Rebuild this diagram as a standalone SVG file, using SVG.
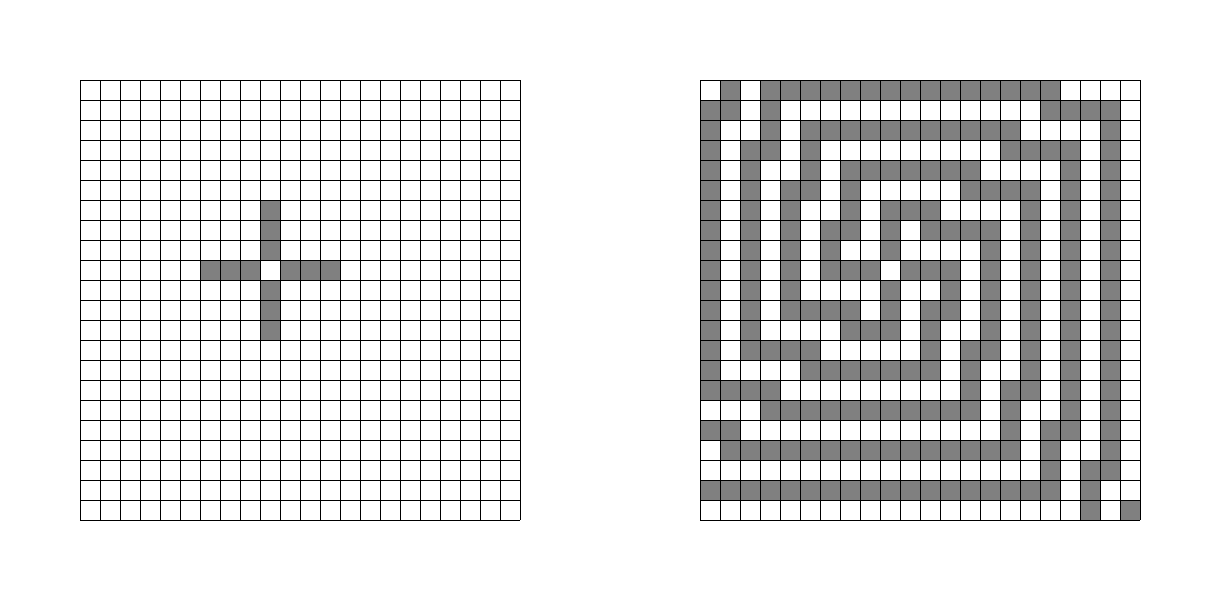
<svg xmlns="http://www.w3.org/2000/svg" xmlns:xlink="http://www.w3.org/1999/xlink" width="1220" height="600" viewBox="0 0 1220 600">
<style>
.g{fill:#808080;stroke:none}
.lines{fill:none;stroke:#000;stroke-width:1;shape-rendering:crispEdges}
</style>
<defs>
<path id="grid" class="lines" d="M80 80V520M100 80V520M120 80V520M140 80V520M160 80V520M180 80V520M200 80V520M220 80V520M240 80V520M260 80V520M280 80V520M300 80V520M320 80V520M340 80V520M360 80V520M380 80V520M400 80V520M420 80V520M440 80V520M460 80V520M480 80V520M500 80V520M520 80V520M80 80H520M80 100H520M80 120H520M80 140H520M80 160H520M80 180H520M80 200H520M80 220H520M80 240H520M80 260H520M80 280H520M80 300H520M80 320H520M80 340H520M80 360H520M80 380H520M80 400H520M80 420H520M80 440H520M80 460H520M80 480H520M80 500H520M80 520H520"/>
</defs>
<rect width="1220" height="600" fill="#fff"/>
<g id="grid-left">
<rect class="g" x="260" y="200" width="20" height="60"/>
<rect class="g" x="200" y="260" width="60" height="20"/>
<rect class="g" x="280" y="260" width="60" height="20"/>
<rect class="g" x="260" y="280" width="20" height="60"/>
<use xlink:href="#grid"/>
</g>
<g id="grid-right">
<!-- row 0 -->
<rect class="g" x="720" y="80" width="20" height="20"/>
<rect class="g" x="760" y="80" width="300" height="20"/>
<!-- row 1 -->
<rect class="g" x="700" y="100" width="40" height="20"/>
<rect class="g" x="760" y="100" width="20" height="20"/>
<rect class="g" x="1040" y="100" width="80" height="20"/>
<!-- row 2 -->
<rect class="g" x="700" y="120" width="20" height="20"/>
<rect class="g" x="760" y="120" width="20" height="20"/>
<rect class="g" x="800" y="120" width="220" height="20"/>
<rect class="g" x="1100" y="120" width="20" height="20"/>
<!-- row 3 -->
<rect class="g" x="700" y="140" width="20" height="20"/>
<rect class="g" x="740" y="140" width="40" height="20"/>
<rect class="g" x="800" y="140" width="20" height="20"/>
<rect class="g" x="1000" y="140" width="80" height="20"/>
<rect class="g" x="1100" y="140" width="20" height="20"/>
<!-- row 4 -->
<rect class="g" x="700" y="160" width="20" height="20"/>
<rect class="g" x="740" y="160" width="20" height="20"/>
<rect class="g" x="800" y="160" width="20" height="20"/>
<rect class="g" x="840" y="160" width="140" height="20"/>
<rect class="g" x="1060" y="160" width="20" height="20"/>
<rect class="g" x="1100" y="160" width="20" height="20"/>
<!-- row 5 -->
<rect class="g" x="700" y="180" width="20" height="20"/>
<rect class="g" x="740" y="180" width="20" height="20"/>
<rect class="g" x="780" y="180" width="40" height="20"/>
<rect class="g" x="840" y="180" width="20" height="20"/>
<rect class="g" x="960" y="180" width="80" height="20"/>
<rect class="g" x="1060" y="180" width="20" height="20"/>
<rect class="g" x="1100" y="180" width="20" height="20"/>
<!-- row 6 -->
<rect class="g" x="700" y="200" width="20" height="20"/>
<rect class="g" x="740" y="200" width="20" height="20"/>
<rect class="g" x="780" y="200" width="20" height="20"/>
<rect class="g" x="840" y="200" width="20" height="20"/>
<rect class="g" x="880" y="200" width="60" height="20"/>
<rect class="g" x="1020" y="200" width="20" height="20"/>
<rect class="g" x="1060" y="200" width="20" height="20"/>
<rect class="g" x="1100" y="200" width="20" height="20"/>
<!-- row 7 -->
<rect class="g" x="700" y="220" width="20" height="20"/>
<rect class="g" x="740" y="220" width="20" height="20"/>
<rect class="g" x="780" y="220" width="20" height="20"/>
<rect class="g" x="820" y="220" width="40" height="20"/>
<rect class="g" x="880" y="220" width="20" height="20"/>
<rect class="g" x="920" y="220" width="80" height="20"/>
<rect class="g" x="1020" y="220" width="20" height="20"/>
<rect class="g" x="1060" y="220" width="20" height="20"/>
<rect class="g" x="1100" y="220" width="20" height="20"/>
<!-- row 8 -->
<rect class="g" x="700" y="240" width="20" height="20"/>
<rect class="g" x="740" y="240" width="20" height="20"/>
<rect class="g" x="780" y="240" width="20" height="20"/>
<rect class="g" x="820" y="240" width="20" height="20"/>
<rect class="g" x="880" y="240" width="20" height="20"/>
<rect class="g" x="980" y="240" width="20" height="20"/>
<rect class="g" x="1020" y="240" width="20" height="20"/>
<rect class="g" x="1060" y="240" width="20" height="20"/>
<rect class="g" x="1100" y="240" width="20" height="20"/>
<!-- row 9 -->
<rect class="g" x="700" y="260" width="20" height="20"/>
<rect class="g" x="740" y="260" width="20" height="20"/>
<rect class="g" x="780" y="260" width="20" height="20"/>
<rect class="g" x="820" y="260" width="60" height="20"/>
<rect class="g" x="900" y="260" width="60" height="20"/>
<rect class="g" x="980" y="260" width="20" height="20"/>
<rect class="g" x="1020" y="260" width="20" height="20"/>
<rect class="g" x="1060" y="260" width="20" height="20"/>
<rect class="g" x="1100" y="260" width="20" height="20"/>
<!-- row 10 -->
<rect class="g" x="700" y="280" width="20" height="20"/>
<rect class="g" x="740" y="280" width="20" height="20"/>
<rect class="g" x="780" y="280" width="20" height="20"/>
<rect class="g" x="880" y="280" width="20" height="20"/>
<rect class="g" x="940" y="280" width="20" height="20"/>
<rect class="g" x="980" y="280" width="20" height="20"/>
<rect class="g" x="1020" y="280" width="20" height="20"/>
<rect class="g" x="1060" y="280" width="20" height="20"/>
<rect class="g" x="1100" y="280" width="20" height="20"/>
<!-- row 11 -->
<rect class="g" x="700" y="300" width="20" height="20"/>
<rect class="g" x="740" y="300" width="20" height="20"/>
<rect class="g" x="780" y="300" width="80" height="20"/>
<rect class="g" x="880" y="300" width="20" height="20"/>
<rect class="g" x="920" y="300" width="40" height="20"/>
<rect class="g" x="980" y="300" width="20" height="20"/>
<rect class="g" x="1020" y="300" width="20" height="20"/>
<rect class="g" x="1060" y="300" width="20" height="20"/>
<rect class="g" x="1100" y="300" width="20" height="20"/>
<!-- row 12 -->
<rect class="g" x="700" y="320" width="20" height="20"/>
<rect class="g" x="740" y="320" width="20" height="20"/>
<rect class="g" x="840" y="320" width="60" height="20"/>
<rect class="g" x="920" y="320" width="20" height="20"/>
<rect class="g" x="980" y="320" width="20" height="20"/>
<rect class="g" x="1020" y="320" width="20" height="20"/>
<rect class="g" x="1060" y="320" width="20" height="20"/>
<rect class="g" x="1100" y="320" width="20" height="20"/>
<!-- row 13 -->
<rect class="g" x="700" y="340" width="20" height="20"/>
<rect class="g" x="740" y="340" width="80" height="20"/>
<rect class="g" x="920" y="340" width="20" height="20"/>
<rect class="g" x="960" y="340" width="40" height="20"/>
<rect class="g" x="1020" y="340" width="20" height="20"/>
<rect class="g" x="1060" y="340" width="20" height="20"/>
<rect class="g" x="1100" y="340" width="20" height="20"/>
<!-- row 14 -->
<rect class="g" x="700" y="360" width="20" height="20"/>
<rect class="g" x="800" y="360" width="140" height="20"/>
<rect class="g" x="960" y="360" width="20" height="20"/>
<rect class="g" x="1020" y="360" width="20" height="20"/>
<rect class="g" x="1060" y="360" width="20" height="20"/>
<rect class="g" x="1100" y="360" width="20" height="20"/>
<!-- row 15 -->
<rect class="g" x="700" y="380" width="80" height="20"/>
<rect class="g" x="960" y="380" width="20" height="20"/>
<rect class="g" x="1000" y="380" width="40" height="20"/>
<rect class="g" x="1060" y="380" width="20" height="20"/>
<rect class="g" x="1100" y="380" width="20" height="20"/>
<!-- row 16 -->
<rect class="g" x="760" y="400" width="220" height="20"/>
<rect class="g" x="1000" y="400" width="20" height="20"/>
<rect class="g" x="1060" y="400" width="20" height="20"/>
<rect class="g" x="1100" y="400" width="20" height="20"/>
<!-- row 17 -->
<rect class="g" x="700" y="420" width="40" height="20"/>
<rect class="g" x="1000" y="420" width="20" height="20"/>
<rect class="g" x="1040" y="420" width="40" height="20"/>
<rect class="g" x="1100" y="420" width="20" height="20"/>
<!-- row 18 -->
<rect class="g" x="720" y="440" width="300" height="20"/>
<rect class="g" x="1040" y="440" width="20" height="20"/>
<rect class="g" x="1100" y="440" width="20" height="20"/>
<!-- row 19 -->
<rect class="g" x="1040" y="460" width="20" height="20"/>
<rect class="g" x="1080" y="460" width="40" height="20"/>
<!-- row 20 -->
<rect class="g" x="700" y="480" width="360" height="20"/>
<rect class="g" x="1080" y="480" width="20" height="20"/>
<!-- row 21 -->
<rect class="g" x="1080" y="500" width="20" height="20"/>
<rect class="g" x="1120" y="500" width="20" height="20"/>
<use xlink:href="#grid" transform="translate(620,0)"/>
</g>
</svg>
